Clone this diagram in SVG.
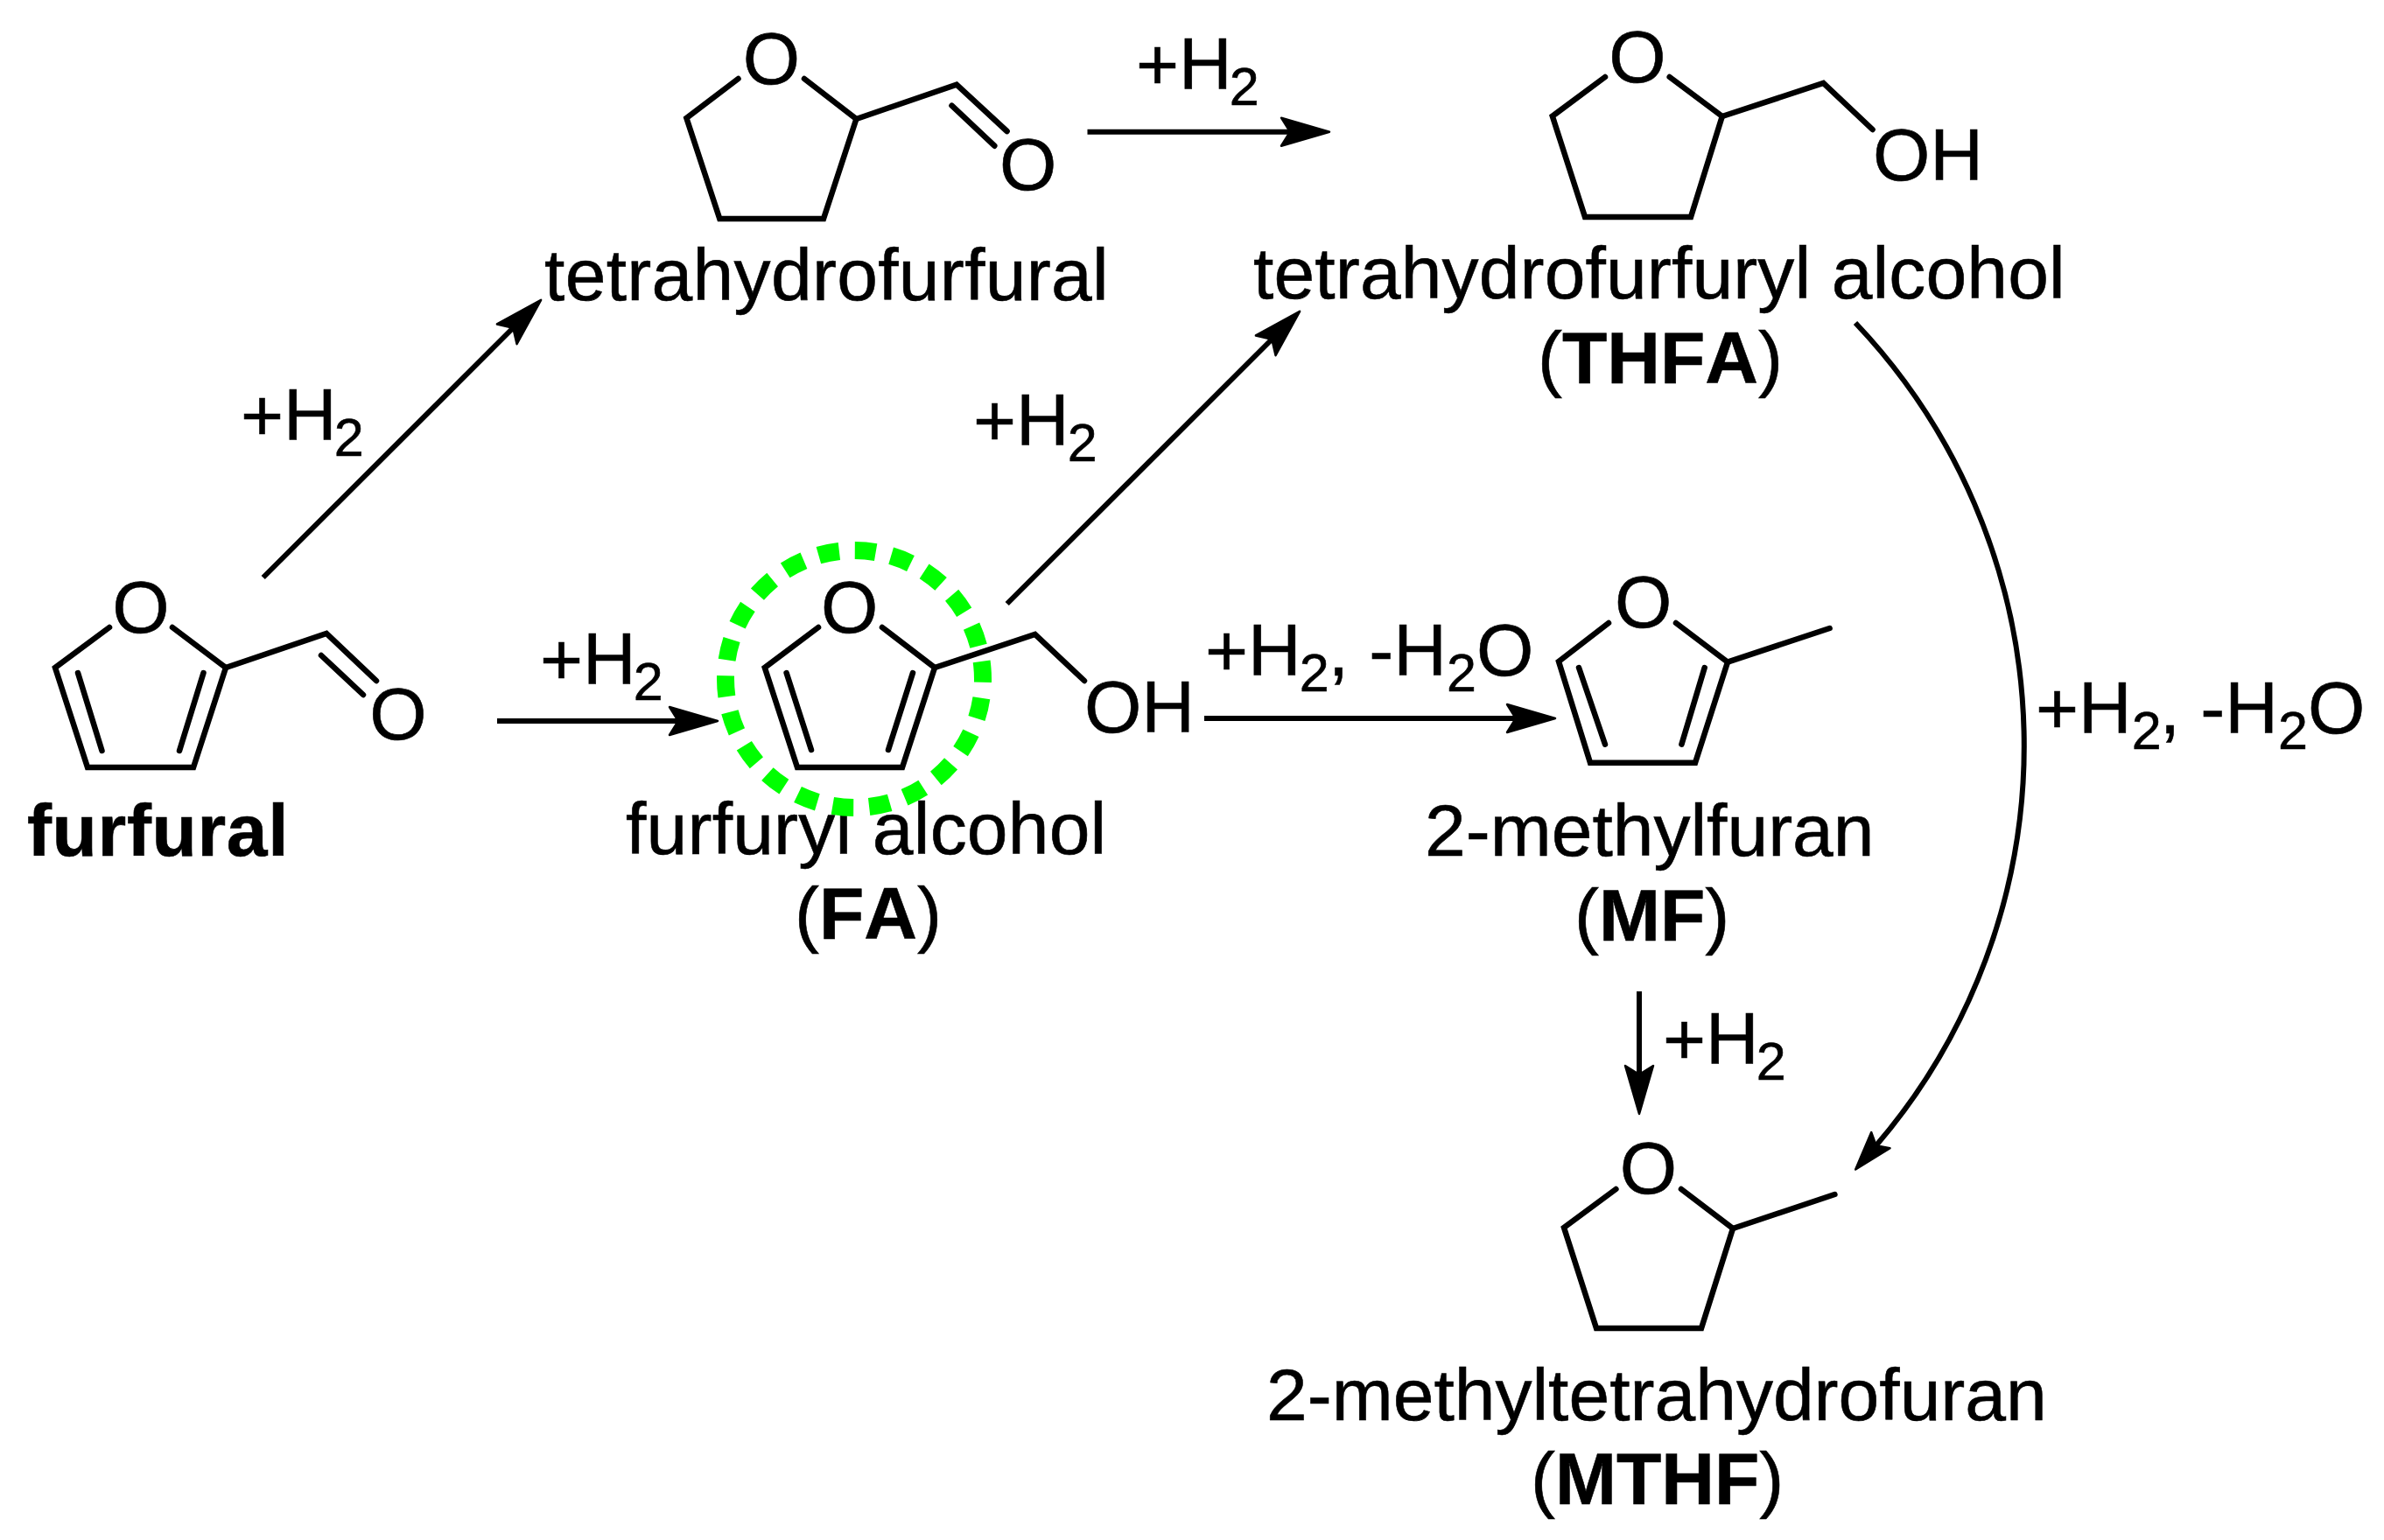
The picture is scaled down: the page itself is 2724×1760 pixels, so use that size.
<svg xmlns="http://www.w3.org/2000/svg" width="2724" height="1760" viewBox="0 0 2724 1760">
<style>
.b{fill:none;stroke:#000;stroke-width:6.5;stroke-linecap:round;stroke-linejoin:miter}
.c{fill:none;stroke:#000;stroke-width:6;stroke-linecap:butt}
text{font-family:"Liberation Sans",Arial,sans-serif;font-size:84px;fill:#000;stroke:#000;stroke-width:.6;font-kerning:none}
.m{text-anchor:middle}
.s{font-size:61px}
.bd{font-weight:700}
</style>
<defs>
<marker id="head" markerUnits="userSpaceOnUse" markerWidth="60" markerHeight="38" viewBox="0 0 60 38" refX="13" refY="19" orient="auto"><path d="M2 3 L57 19 L2 35 L12 19 Z" fill="#000" stroke="#000" stroke-width="2.5" stroke-linejoin="round"/></marker>
<marker id="head2" markerUnits="userSpaceOnUse" markerWidth="50" markerHeight="34" viewBox="0 0 50 34" refX="11" refY="17" orient="auto"><path d="M2 3 L46 17 L2 31 L10 17 Z" fill="#000" stroke="#000" stroke-width="2.5" stroke-linejoin="round"/></marker>
</defs>
<rect width="2724" height="1760" fill="#fff"/>

<g id="connectors">
<line class="c" x1="568" y1="824" x2="776" y2="824" marker-end="url(#head)"/>
<line class="c" x1="300.7" y1="660" x2="587" y2="374" marker-end="url(#head)"/>
<line class="c" x1="1150.7" y1="690" x2="1454" y2="387" marker-end="url(#head)"/>
<line class="c" x1="1242.5" y1="150.7" x2="1475" y2="150.7" marker-end="url(#head)"/>
<line class="c" x1="1376" y1="821" x2="1733" y2="821" marker-end="url(#head)"/>
<line class="c" x1="1873" y1="1133" x2="1873" y2="1229" marker-end="url(#head)"/>
<path class="c" d="M2120 369 A702 702 0 0 1 2143 1310" marker-end="url(#head2)"/>
</g>

<g id="furfural">
<polyline class="b" points="125,717 63,763 100,877 221,877 258,763 197,717"/>
<line class="b" x1="89" y1="769" x2="116.5" y2="858"/>
<line class="b" x1="232.5" y1="769" x2="205" y2="858"/>
<polyline class="b" points="258,763 373,724 430,778"/>
<line class="b" x1="367" y1="749" x2="415" y2="794"/>
<text class="m" x="161" y="723">O</text>
<text class="m" x="455" y="845">O</text>
<text class="bd" x="31" y="978" letter-spacing=".65">furfural</text>
</g>

<g id="tetrahydrofurfural">
<polyline class="b" points="843.5,90 784.4,135 822.3,250 941,250 978.4,136 919,90"/>
<polyline class="b" points="978.4,136 1093,96.7 1150.6,150"/>
<line class="b" x1="1087.5" y1="120.7" x2="1136.3" y2="166.7"/>
<text class="m" x="881.4" y="96">O</text>
<text class="m" x="1174.7" y="217">O</text>
<text x="622" y="343" letter-spacing=".3">tetrahydrofurfural</text>
</g>

<g id="furfuryl-alcohol">
<polyline class="b" points="935,717 873.8,763 911,877 1031,877 1068,763 1008,717"/>
<line class="b" x1="898.6" y1="769" x2="927" y2="857"/>
<line class="b" x1="1043" y1="769" x2="1015" y2="857"/>
<polyline class="b" points="1068,763 1182.6,725 1239,778"/>
<text class="m" x="970.6" y="723">O</text>
<text x="1239" y="837">OH</text>
<text x="715" y="976" letter-spacing=".2">furfuryl alcohol</text>
<text x="908" y="1073">(<tspan class="bd">FA</tspan>)</text>
</g>

<g id="thfa">
<polyline class="b" points="1834,88 1773.8,132.7 1811,248 1932,248 1967.8,133 1907.7,88"/>
<polyline class="b" points="1967.8,133 2083.4,95 2139.6,148"/>
<text class="m" x="1871" y="94">O</text>
<text x="2140" y="206">OH</text>
<text x="1432" y="341" letter-spacing=".13">tetrahydrofurfuryl alcohol</text>
<text x="1757" y="438">(<tspan class="bd">THFA</tspan>)</text>
</g>

<g id="methylfuran">
<polyline class="b" points="1838,712 1781,756 1817,871.7 1937,871.7 1974,756.7 1915,712"/>
<line class="b" x1="1804" y1="763" x2="1834" y2="850.7"/>
<line class="b" x1="1947.7" y1="763" x2="1921.4" y2="850.7"/>
<line class="b" x1="1974" y1="756.7" x2="2090.6" y2="718"/>
<text class="m" x="1877.6" y="717">O</text>
<text x="1628" y="978">2-methylfuran</text>
<text x="1799" y="1075">(<tspan class="bd">MF</tspan>)</text>
</g>

<g id="mthf">
<polyline class="b" points="1846.4,1359 1787,1403 1824,1518 1944,1518 1980,1404 1921,1359"/>
<line class="b" x1="1980" y1="1404" x2="2096.4" y2="1365"/>
<text class="m" x="1883.4" y="1364">O</text>
<text x="1447" y="1623">2-methyltetrahydrofuran</text>
<text x="1749" y="1719">(<tspan class="bd">MTHF</tspan>)</text>
</g>

<g id="conditions">
<text x="275" y="503">+H<tspan class="s" dx="-3" dy="18">2</tspan></text>
<text x="1112" y="509">+H<tspan class="s" dx="-2" dy="18">2</tspan></text>
<text x="617" y="782">+H<tspan class="s" dx="-3" dy="18">2</tspan></text>
<text x="1298" y="102">+H<tspan class="s" dx="-3" dy="18">2</tspan></text>
<text x="1900" y="1216">+H<tspan class="s" dx="-3" dy="18">2</tspan></text>
<text x="1377" y="772">+H<tspan class="s" dx="-2" dy="18">2</tspan><tspan dx="-1" dy="-18">, -H</tspan><tspan class="s" dy="18">2</tspan><tspan dy="-18">O</tspan></text>
<text x="2326" y="838">+H<tspan class="s" dy="18">2</tspan><tspan dx="-2" dy="-18">, -H</tspan><tspan class="s" dy="18">2</tspan><tspan dy="-18">O</tspan></text>
</g>

<g id="highlight">
<circle cx="976" cy="776" r="147" fill="none" stroke="#00ff00" stroke-width="20" pathLength="924" stroke-dasharray="24 18" stroke-dashoffset="-21.8"/>
</g>
</svg>
